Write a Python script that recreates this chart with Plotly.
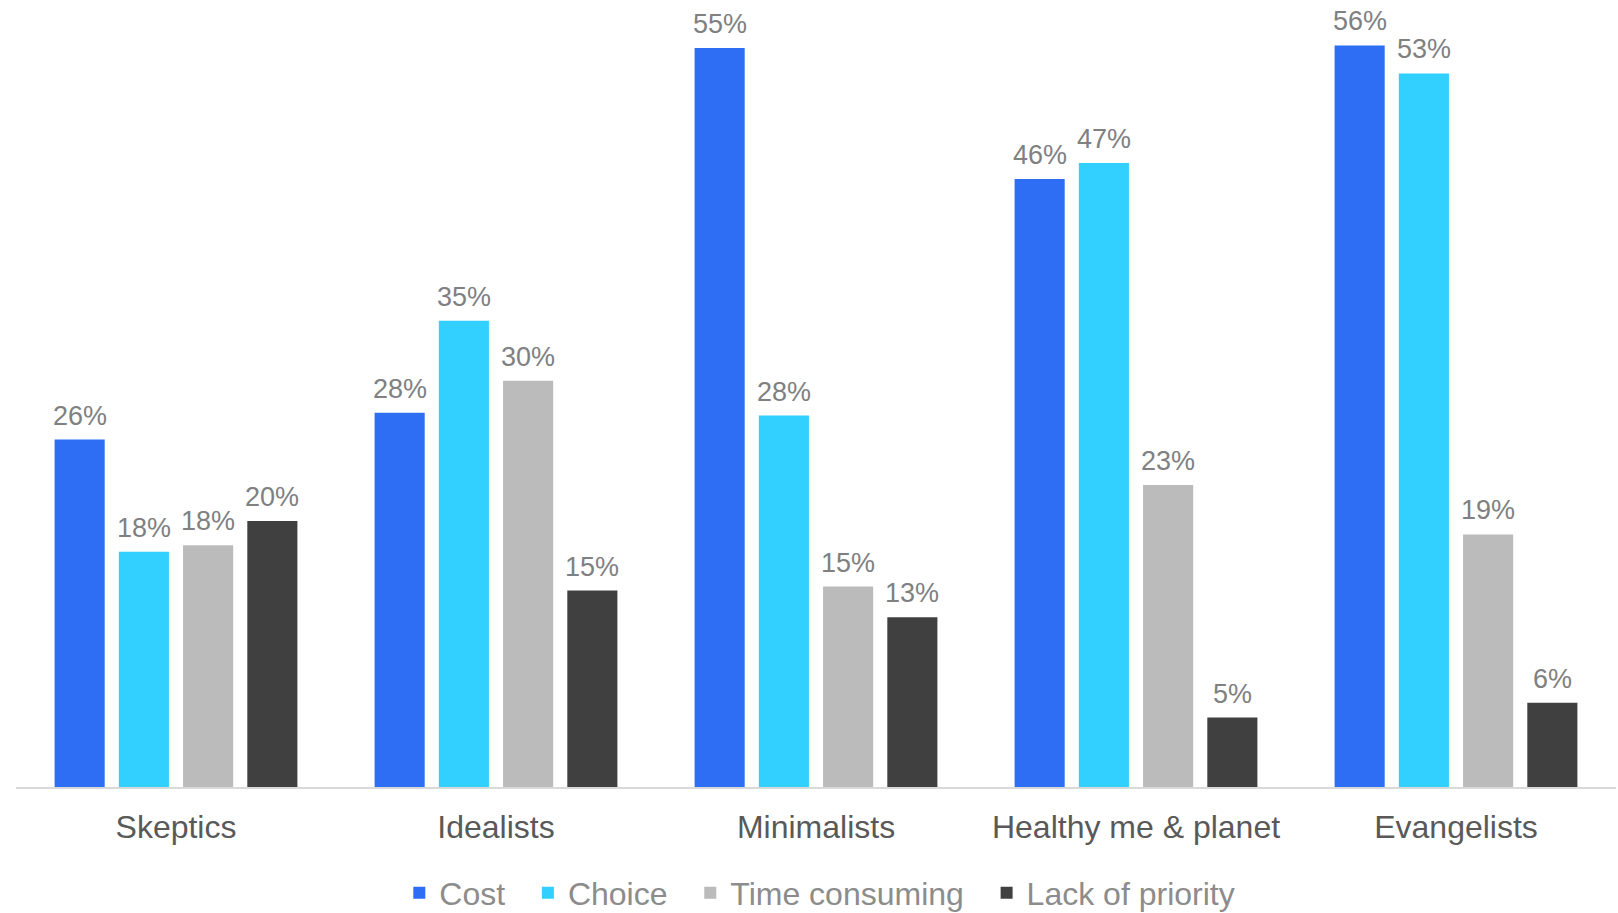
import plotly.graph_objects as go

categories = ["Skeptics", "Idealists", "Minimalists", "Healthy me & planet", "Evangelists"]
series_names = ["Cost", "Choice", "Time consuming", "Lack of priority"]
cost = [26.0, 28.0, 55.3, 45.5, 55.5]
choice = [17.6, 34.9, 27.8, 46.7, 53.4]
time_consuming = [18.1, 30.4, 15.0, 22.6, 18.9]
lack_of_priority = [19.9, 14.7, 12.7, 5.2, 6.3]
cost_labels = ["26%", "28%", "55%", "46%", "56%"]
choice_labels = ["18%", "35%", "28%", "47%", "53%"]
time_labels = ["18%", "30%", "15%", "23%", "19%"]
lack_labels = ["20%", "15%", "13%", "5%", "6%"]
colors = ["#2E6EF5", "#31D0FF", "#BBBBBB", "#404040"]

FONT = "Arial, Liberation Sans, sans-serif"
BARGAP = 0.197
N = len(series_names)

fig = go.Figure()
annotations = []
all_vals = [cost, choice, time_consuming, lack_of_priority]
all_labels = [cost_labels, choice_labels, time_labels, lack_labels]
for j, (name, vals, labels, col) in enumerate(zip(series_names, all_vals, all_labels, colors)):
    fig.add_trace(go.Bar(
        x=categories, y=vals, name=name + "\u00a0\u00a0",
        marker=dict(color=col, line=dict(width=0)),
        hoverinfo="skip",
    ))
    off = (-0.5 + (j + 0.5) / N) * (1 - BARGAP)
    for i, (v, lab) in enumerate(zip(vals, labels)):
        annotations.append(dict(
            x=i + off, y=v, xref="x", yref="y", text=lab, showarrow=False,
            yanchor="bottom", xanchor="center", yshift=7,
            font=dict(family=FONT, size=27, color="#808080"),
        ))

fig.update_layout(
    width=1618, height=913,
    margin=dict(l=16, r=2, t=12, b=126),
    paper_bgcolor="white", plot_bgcolor="white",
    barmode="group", bargap=BARGAP, bargroupgap=0.22,
    font=dict(family=FONT),
    showlegend=True,
    annotations=annotations,
    legend=dict(orientation="h", x=0.508, xanchor="center",
                yref="container", y=0.022, yanchor="middle",
                font=dict(family=FONT, size=32, color="#8C8C8C"),
                itemwidth=30, traceorder="normal"),
    xaxis=dict(showline=True, linecolor="#D9D9D9", linewidth=2, showgrid=False,
               ticks="outside", ticklen=11, tickcolor="rgba(0,0,0,0)",
               tickfont=dict(family=FONT, size=32, color="#595959")),
    yaxis=dict(range=[0, 58], visible=False, showgrid=False, zeroline=False),
)

fig.write_html("out.html")
